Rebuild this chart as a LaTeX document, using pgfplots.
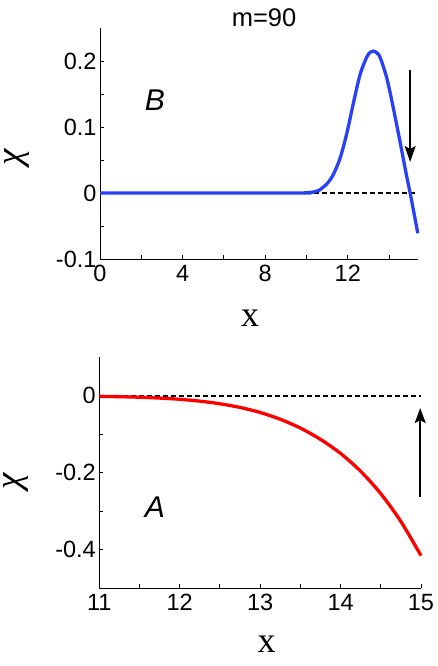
\documentclass[border=0pt]{standalone}
\usepackage{fontspec}
\setmainfont{Liberation Sans}
\newfontfamily\serif{Liberation Serif}
\usepackage{pgfplots}
\pgfplotsset{compat=1.18}
\usetikzlibrary{arrows.meta}
\definecolor{cblue}{RGB}{40,65,245}
\definecolor{cred}{RGB}{255,0,0}
\pgfplotsset{
  common/.style={
    scale only axis, clip=false,
    axis x line*=bottom, axis y line*=left,
    axis line style={line width=0.9pt, -},
    tick style={line width=0.9pt, black},
    major tick length=4pt, minor tick length=4pt,
    tick align=inside,
    tick label style={font=\fontsize{23.5}{27}\selectfont},
    /pgf/number format/assume math mode=true,
    xlabel style={font=\fontsize{36}{40}\selectfont\serif, anchor=base},
    ylabel style={font=\fontsize{37}{40}\selectfont\serif\itshape, anchor=center, inner sep=0pt},
  }
}
\begin{document}
\begin{tikzpicture}
\begin{axis}[common,
  at={(100pt,407pt)}, anchor=south west,
  width=318pt, height=231pt,
  xmin=0, xmax=15.4, ymin=-0.1, ymax=0.25,
  xtick={0,4,8,12}, minor xtick={2,6,10,14},
  ytick={-0.1,0,0.1,0.2}, yticklabels={-0.1,0,0.1,0.2},
  minor ytick={-0.05,0.05,0.15},
  x tick label style={yshift=-3pt},
  every axis title shift=0pt,
  title={m=90},
  title style={at={(axis description cs:0.516,1)}, anchor=base, yshift=1.5pt, font=\fontsize{25.5}{30}\selectfont},
  xlabel={x}, xlabel style={at={(axis description cs:0.472,-0.294)}},
  ylabel={χ}, ylabel style={at={(axis description cs:-0.262,0.44)}},
]
\addplot[black, line width=1.5pt, dash pattern=on 5pt off 3pt] coordinates {(10.34,0) (15.26,0)};
\addplot[cblue, line width=3.3pt, smooth, tension=0.5] coordinates {
(0,0) (9.5,0) (10,0.0004) (10.34,0.0015) (10.6,0.004) (10.82,0.009) (11.05,0.016)
(11.3,0.028) (11.63,0.053) (11.95,0.090) (12.27,0.136) (12.6,0.180) (12.92,0.206)
(13.1,0.2135) (13.24,0.215) (13.4,0.2125) (13.57,0.205) (13.89,0.174) (14.21,0.128)
(14.54,0.076) (14.86,0.024) (15.02,0) (15.39,-0.061)};
\addplot[black, line width=1.5pt, -{Stealth[length=16pt,width=11pt,inset=3pt]}] coordinates {(15.02,0.186) (15.02,0.047)};
\node[font=\fontsize{30}{34}\selectfont\itshape] at (axis cs:2.66,0.140) {B};
\end{axis}
\begin{axis}[common,
  at={(99.3pt,77.7pt)}, anchor=south west,
  width=321.7pt, height=231pt,
  xmin=11, xmax=15, ymin=-0.5, ymax=0.1,
  xtick={11,12,13,14,15}, minor xtick={11.5,12.5,13.5,14.5},
  ytick={-0.4,-0.2,0}, yticklabels={-0.4,-0.2,0},
  minor ytick={-0.3,-0.1},
  x tick label style={yshift=-2pt},
  xlabel={x}, xlabel style={at={(axis description cs:0.52,-0.28)}},
  ylabel={χ}, ylabel style={at={(axis description cs:-0.258,0.464)}},
]
\addplot[black, line width=1.5pt, dash pattern=on 5pt off 3pt] coordinates {(11,0) (15,0)};
\addplot[cred, line width=3.3pt, smooth, tension=0.5] coordinates {
(11,-0.0014) (11.25,-0.0023) (11.5,-0.0037) (11.75,-0.0059) (12,-0.0091) (12.25,-0.0139)
(12.5,-0.0207) (12.75,-0.0302) (13,-0.0433) (13.25,-0.0609) (13.5,-0.0838) (13.75,-0.1131)
(14,-0.1497) (14.25,-0.1961) (14.5,-0.2543) (14.75,-0.3265) (15,-0.415)};
\addplot[black, line width=1.5pt, -{Stealth[length=15pt,width=11pt,inset=3pt]}] coordinates {(14.99,-0.262) (14.99,-0.032)};
\node[font=\fontsize{30}{34}\selectfont\itshape] at (axis cs:11.69,-0.29) {A};
\end{axis}
\pgfresetboundingbox
\path[use as bounding box] (0,0) rectangle (437pt,666pt);
\end{tikzpicture}
\end{document}
